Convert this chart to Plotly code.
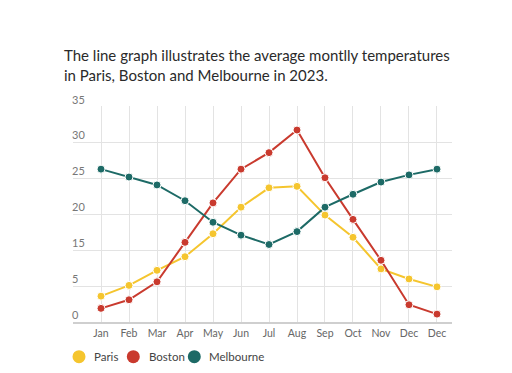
import plotly.graph_objects as go

months = ["Jan", "Feb", "Mar", "Apr", "May", "Jun", "Jul", "Aug", "Sep", "Oct", "Nov", "Dec", "Dec"]
x_idx = list(range(len(months)))

# values in the axis' own (evenly spaced) units; tick labels follow the reference
paris = [3.6, 5.1, 7.2, 9.1, 12.3, 16.0, 18.7, 18.9, 14.9, 11.8, 7.4, 6.0, 4.9]
boston = [1.9, 3.1, 5.6, 11.1, 16.6, 21.3, 23.6, 26.75, 20.1, 14.3, 8.6, 2.4, 1.1]
melbourne = [21.3, 20.2, 19.1, 16.9, 13.9, 12.1, 10.8, 12.6, 16.0, 17.8, 19.5, 20.5, 21.3]

y_tickvals = [0, 5, 10, 15, 20, 25, 30]
y_ticktext = ["0", "5", "15", "20", "25", "30", "35"]

series_names = ["Paris", "Boston", "Melbourne"]
series_values = [paris, boston, melbourne]
series_colors = ["#F5C52E", "#C93A2E", "#1D6A66"]

W, H = 512, 373
OFF = 8  # page body margin offset
ML, MR, MT, MB = 65, 68, 98, 59
PW, PH = W - ML - MR, H - MT - MB


def px_to_xpaper(px):
    return (px - OFF - ML) / PW


def px_to_ypaper(py):
    return (H - MB - (py - OFF)) / PH


fig = go.Figure()
for name, vals, col in zip(series_names, series_values, series_colors):
    fig.add_trace(go.Scatter(
        x=x_idx, y=vals, mode="lines+markers", name=name,
        line=dict(color=col, width=2),
        marker=dict(color=col, size=8, line=dict(color="white", width=1)),
        showlegend=False,
    ))

# legend drawn as circle + text (compact layout as in the reference)
legend_circle_px = [79, 133.3, 194.3]
legend_text_px = [92.3, 146.7, 207.3]
legend_y_px = 356.7
r = 6.5
shapes = []
annotations = []
for name, col, cx, tx in zip(series_names, series_colors, legend_circle_px, legend_text_px):
    shapes.append(dict(
        type="circle", xref="paper", yref="paper",
        x0=px_to_xpaper(cx - r), x1=px_to_xpaper(cx + r),
        y0=px_to_ypaper(legend_y_px + r), y1=px_to_ypaper(legend_y_px - r),
        fillcolor=col, line=dict(width=0),
    ))
    annotations.append(dict(
        text=name, xref="paper", yref="paper",
        x=px_to_xpaper(tx), y=px_to_ypaper(legend_y_px),
        xanchor="left", yanchor="middle", showarrow=False,
        font=dict(family="Lato", size=11.5, color="#444444"),
    ))

fig.update_layout(
    width=W, height=H,
    margin=dict(l=ML, r=MR, t=MT, b=MB, autoexpand=False),
    paper_bgcolor="white", plot_bgcolor="white",
    font=dict(family="Lato", color="#555555"),
    title=dict(
        text="The line graph illustrates the average montlly temperatures<br>in Paris, Boston and Melbourne in 2023.",
        x=56 / W, xanchor="left", xref="container",
        y=1 - 53 / H, yanchor="top", yref="container",
        font=dict(family="Lato", size=15, color="#2a2a2a"),
        automargin=False,
    ),
    xaxis=dict(
        range=[-1.0, 12.536],
        tickvals=x_idx, ticktext=months,
        showgrid=True, gridcolor="#e3e3e3", gridwidth=1,
        showline=True, linecolor="#cfcfcf", linewidth=1.5,
        zeroline=False, ticks="",
        ticklabelstandoff=1,
        automargin=False,
        tickfont=dict(family="Lato", size=10.5, color="#666666"),
    ),
    yaxis=dict(
        range=[0, 30.1],
        tickvals=y_tickvals, ticktext=y_ticktext,
        showgrid=True, gridcolor="#e3e3e3", gridwidth=1,
        zeroline=False, showline=False, ticks="",
        ticklabelposition="inside",
        ticklabelshift=-7,
        ticklabelstandoff=-4,
        ticklabeloverflow="allow",
        automargin=False,
        tickfont=dict(family="Lato", size=11, color="#777777"),
    ),
    shapes=shapes,
    annotations=annotations,
    showlegend=False,
)

fig.write_html("out.html")
